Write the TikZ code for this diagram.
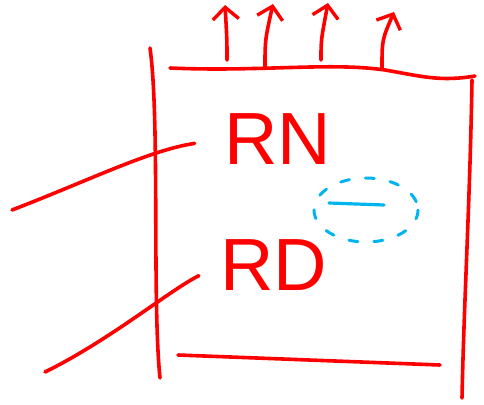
\documentclass[tikz,border=0pt]{standalone}
\usepackage{fontspec}
\setmainfont{Liberation Sans}
\usetikzlibrary{arrows.meta}
\definecolor{pen}{RGB}{255,0,0}
\definecolor{hint}{RGB}{0,180,240}
\tikzset{
	sketch/.style={draw=pen, line width=3.6pt},
	label/.style={text=pen, font=\fontsize{74}{76}\selectfont, inner sep=0pt},
	outflow/.style={sketch, -{Straight Barb[length=12pt, width=26pt, line width=3.4pt]}}
}
\begin{document}
\begin{tikzpicture}[x=1pt, y=-1pt, line join=round, line cap=round]
		\useasboundingbox (0,0) rectangle (484,404);
		\path
			(278,139) node[label] (rn) {RN}
			(274,265) node[label] (rd) {RD}
			(12,210) coordinate (in1)
			(45,372) coordinate (in2)
			(366,210) coordinate (mid);
		% box
		\draw[sketch] (150,48) .. controls (160,120) and (152,300) .. (160,378);
		\draw[sketch] (170,68) .. controls (260,72) and (330,62) .. (385,70)
			.. controls (420,76) and (440,82) .. (475,76);
		\draw[sketch] (472,80) .. controls (470,200) and (464,300) .. (462,398);
		\draw[sketch] (178,355) -- (440,365);
		% outputs on top
		\foreach \x/\y/\tx/\ty in {227/60/225/5, 265/68/273/4, 321/60/328/3, 382/68/394/12}
			\draw[outflow] (\x,\y) .. controls (\x,40) .. (\tx,\ty);
		% inputs
		\draw[sketch, shorten >=30pt] (in1) .. controls (90,180) and (150,150) .. (rn.west);
		\draw[sketch, shorten >=24pt] (in2) .. controls (110,340) and (170,290) .. (rd.west);
		% note
		\draw[hint, line width=3pt, dash pattern=on 9pt off 16pt] (mid) ellipse [x radius=52, y radius=32];
		\draw[hint, line width=3.2pt] (329,203) -- (384,205);
		\end{tikzpicture}
\end{document}
